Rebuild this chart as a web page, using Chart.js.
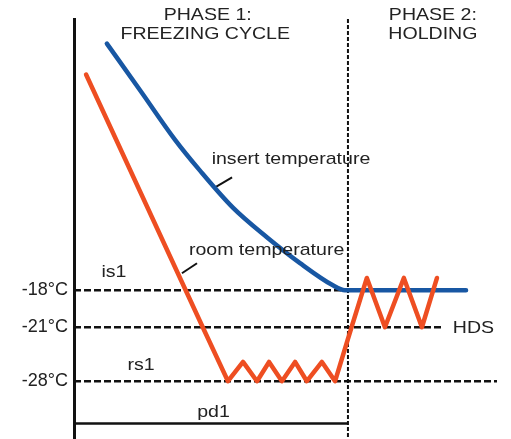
<!DOCTYPE html>
<html>
<head>
<meta charset="utf-8">
<script src="https://cdn.jsdelivr.net/npm/chart.js@4/dist/chart.umd.min.js"></script>
<style>
  html, body { margin: 0; padding: 0; background: #fff; }
  canvas { display: block; }
</style>
</head>
<body>
<canvas id="grafico" width="511" height="439"></canvas>
<script>
// tempo em unidades arbitrárias: 0 = início, 100 = fim da fase 1 (pd1)
const roomTime = [4.4, 47.0, 56.2, 61.7, 66.8, 71.2, 75.9, 80.7, 85.0, 90.5, 95.3, 101.3, 106.9, 113.5, 120.4, 127.0, 132.5];
const roomTemp = [-0.5, -21, -28, -25.5, -28, -25.5, -28, -25.5, -28, -25.5, -28, -21, -17, -21, -17, -21, -17];
const insertTime = [12.0, 24.5, 36.9, 46.0, 58.0, 70.4, 82.5, 94.5, 98.9, 143.1];
const insertTemp = [2.0, -1.9, -5.8, -8.3, -11.3, -13.7, -15.8, -17.6, -18, -18];
const tickTemps = [-18, -21, -28];
// linhas tracejadas: is1, HDS, rs1 e onde cada uma termina
const setTemps = [-18, -21, -28];
const setEnds = [98.9, 134.7, 154.4];
const phaseEnd = 100;   // pd1
const pdTemp = -33.5;

const xMax = 155.5;
const tMin = -35.5, tMax = 4;

// o esquema não está em escala: abaixo de -21°C um grau ocupa menos espaço
function nivel(t) {
    return t >= -21 ? t : -21 + (t + 21) * 0.625;
}
const pts = (xs, ts) => xs.map((x, i) => ({ x: x, y: nivel(ts[i]) }));

// textos e traços de chamada, em coordenadas do gráfico
const textos = [
    { text: 'PHASE 1:', x: 48.8, t: 3.95 },
    { text: 'FREEZING CYCLE', x: 47.9, t: 2.41 },
    { text: 'PHASE 2:', x: 131.0, t: 3.95 },
    { text: 'HOLDING', x: 131.0, t: 2.41 },
    { text: 'insert temperature', x: 79.2, t: -7.72 },
    { text: 'room temperature', x: 70.3, t: -15.16 },
    { text: 'is1', x: 14.6, t: -16.95 },
    { text: 'rs1', x: 24.5, t: -26.58 },
    { text: 'pd1', x: 50.9, t: -32.63 },
    { text: 'HDS', x: 145.8, t: -21.78 }
];
const insertLeader = { x: [51.5, 57.7], t: [-9.65, -8.84] };
const roomLeader = { x: [39.4, 44.9], t: [-16.62, -15.81] };

const RED = '#ee4e22';
const BLUE = '#1857a3';
const INK = '#222';

const linha = (data, extra) => Object.assign({
    data: data,
    borderColor: '#111',
    borderWidth: 2.4,
    pointRadius: 0,
    tension: 0,
    fill: false
}, extra);

const datasets = [
    linha(pts(roomTime, roomTemp), { borderColor: RED, borderWidth: 4.5, borderJoinStyle: 'round', borderCapStyle: 'round' }),
    linha(pts(insertTime, insertTemp), { borderColor: BLUE, borderWidth: 4.5, cubicInterpolationMode: 'monotone', borderCapStyle: 'round' }),
    linha(pts(insertLeader.x, insertLeader.t), { borderWidth: 2 }),
    linha(pts(roomLeader.x, roomLeader.t), { borderWidth: 2 })
];
setTemps.forEach((t, i) => {
    datasets.push(linha(pts([0, setEnds[i]], [t, t]), { borderDash: [7, 3] }));
});
datasets.push(linha([{ x: phaseEnd, y: nivel(tMax) }, { x: phaseEnd, y: nivel(tMin) }], { borderDash: [4, 2], borderWidth: 2 }));
datasets.push(linha(pts([0, phaseEnd], [pdTemp, pdTemp]), { borderWidth: 2.5 }));

const textPlugin = {
    id: 'textos',
    afterDatasetsDraw(chart) {
        const ctx = chart.ctx;
        const xs = chart.scales.x, ys = chart.scales.y;
        ctx.save();
        ctx.fillStyle = INK;
        ctx.font = '17px "Liberation Sans", Arial, sans-serif';
        ctx.textAlign = 'center';
        ctx.textBaseline = 'alphabetic';
        textos.forEach(a => {
            ctx.save();
            ctx.translate(xs.getPixelForValue(a.x), ys.getPixelForValue(nivel(a.t)));
            ctx.scale(1.15, 1);
            ctx.fillText(a.text, 0, 0);
            ctx.restore();
        });
        ctx.restore();
    }
};

new Chart(document.getElementById('grafico'), {
    type: 'line',
    data: { datasets: datasets },
    options: {
        responsive: false,
        animation: false,
        layout: { padding: { top: 19, right: 11, bottom: 0, left: 0 } },
        plugins: { legend: { display: false }, tooltip: { enabled: false } },
        scales: {
            x: { type: 'linear', min: 0, max: xMax, display: false },
            y: {
                type: 'linear',
                min: nivel(tMin),
                max: nivel(tMax),
                afterFit: s => { s.width = 74; s.paddingTop = 0; s.paddingBottom = 0; },
                afterBuildTicks: s => { s.ticks = tickTemps.map(t => ({ value: nivel(t) })); },
                grid: { display: false, drawTicks: false },
                border: { display: true, color: '#111', width: 3 },
                ticks: {
                    autoSkip: false,
                    padding: 6,
                    color: INK,
                    font: { size: 18, family: '"Liberation Sans", Arial, sans-serif' },
                    callback: (v, i) => tickTemps[i] + '°C'
                }
            }
        }
    },
    plugins: [textPlugin]
});
</script>
</body>
</html>
